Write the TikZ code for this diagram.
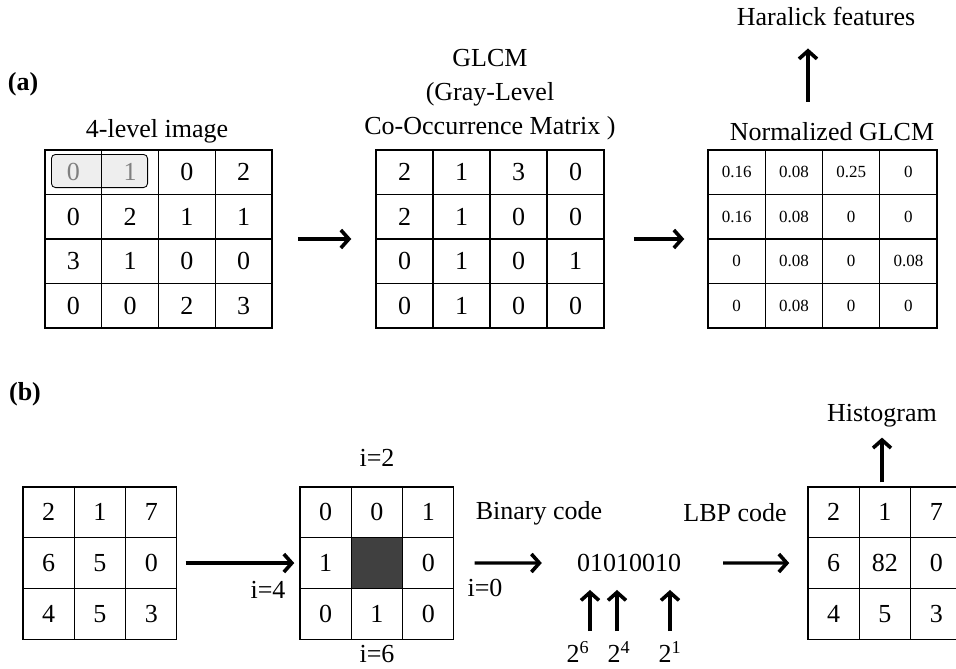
\documentclass[tikz,border=0pt]{standalone}
\usepackage{fontspec}
\setmainfont{Liberation Serif}
\usetikzlibrary{arrows.meta,positioning,fit,backgrounds}
\definecolor{core}{RGB}{64,64,64}
\definecolor{pairfill}{RGB}{238,238,238}
\definecolor{pairtext}{RGB}{128,128,128}
\tikzset{
  flow/.style={-{Straight Barb[length=8pt,width=18pt,line width=3.6pt]},line width=3.3pt},
  cell/.style={draw,line width=1.1pt,minimum width=#1,minimum height=44.5pt,
    inner sep=0pt,font=\fontsize{26}{31}\selectfont},
  cell/.default=57pt,
  pix/.style={draw,line width=1.1pt,minimum width=51.3pt,minimum height=50.7pt,
    inner sep=0pt,font=\fontsize{26}{31}\selectfont},
  tag/.style={font=\fontsize{26}{34}\selectfont,align=center,inner sep=0pt},
  part/.style={font=\fontsize{26}{31}\selectfont\bfseries,inner sep=0pt},
  frame/.style={inner sep=0pt},
}

\begin{document}
\begin{tikzpicture}[x=1pt,y=-1pt]
  \useasboundingbox (0,0) rectangle (956,669);

  % (a) GLCM
  \node[part] (pa) at (23,84) {(a)};
  \foreach \i/\row in {1/{{\color{pairtext}0},{\color{pairtext}1},0,2},2/{0,2,1,1},3/{3,1,0,0},4/{0,0,2,3}}
    \foreach \v [count=\j] in \row
      \node[cell=56.75pt] (img-\i-\j) at (45+56.75*\j-28.375,150+44.5*\i-22.25) {\v};
  \foreach \i/\row in {1/{2,1,3,0},2/{2,1,0,0},3/{0,1,0,1},4/{0,1,0,0}}
    \foreach \v [count=\j] in \row
      \node[cell] (glcm-\i-\j) at (376+57*\j-28.5,150+44.5*\i-22.25) {\v};
  \foreach \i/\row in {1/{0.16,0.08,0.25,0},2/{0.16,0.08,0,0},3/{0,0.08,0,0.08},4/{0,0.08,0,0}}
    \foreach \v [count=\j] in \row
      \node[cell=57.25pt,font=\fontsize{17}{20}\selectfont] (norm-\i-\j) at (708+57.25*\j-28.625,150+44.5*\i-22.25) {\v};
  \node[frame,fit=(img-1-1)(img-4-4)] (img) {};
  \node[frame,fit=(glcm-1-1)(glcm-4-4)] (glcm) {};
  \node[frame,fit=(norm-1-1)(norm-4-4)] (norm) {};

  \begin{scope}[on background layer]
    \draw[fill=pairfill,line width=0.9pt,rounded corners=4pt]
      ([xshift=7pt,yshift=-5pt]img-1-1.north west) rectangle ([xshift=-11.5pt,yshift=7.5pt]img-1-2.south east);
  \end{scope}

  \node[tag] (imgtxt) at (157,131) {4-level image};
  \node[tag] (glcmtxt) at (490,95) {GLCM\\(Gray-Level\\Co-Occurrence Matrix )};
  \node[tag] (normtxt) at (832,132) {Normalized GLCM};
  \node[tag] (haral) at (826,16) {Haralick features};

  \draw[flow] ([xshift=25pt]img.east) -- ([xshift=-24pt]glcm.west);
  \draw[flow] ([xshift=29pt]glcm.east) -- ([xshift=-23pt]norm.west);
  \draw[flow] ([xshift=-24pt,yshift=21pt]normtxt.north) -- ([xshift=-18pt,yshift=-23pt]haral.south);

  % (b) LBP
  \node[part] (pb) at (25,394) {(b)};
  \foreach \i/\row in {1/{2,1,7},2/{6,5,0},3/{4,5,3}}
    \foreach \v [count=\j] in \row
      \node[pix] (gray-\i-\j) at (23+51.3*\j-25.65,487+50.7*\i-25.35) {\v};
  \foreach \i/\row in {1/{0,0,1},2/{1,{},0},3/{0,1,0}}
    \foreach \v [count=\j] in \row
      \node[pix] (bits-\i-\j) at (300+51.3*\j-25.65,487+50.7*\i-25.35) {\v};
  \foreach \i/\row in {1/{2,1,7},2/{6,82,0},3/{4,5,3}}
    \foreach \v [count=\j] in \row
      \node[pix] (code-\i-\j) at (808+51.3*\j-25.65,487+50.7*\i-25.35) {\v};
  \node[frame,fit=(gray-1-1)(gray-3-3)] (gray) {};
  \node[frame,fit=(bits-1-1)(bits-3-3)] (bits) {};
  \node[frame,fit=(code-1-1)(code-3-3)] (code) {};

  \begin{scope}[on background layer]
    \fill[core] (bits-2-2.north west) rectangle (bits-2-2.south east);
  \end{scope}

  \node[tag] (i2) at (377,458) {i=2};
  \node[tag] (i6) at (377,654) {i=6};
  \node[tag] (i4) at (268,590) {i=4};
  \node[tag] (i0) at (485,588) {i=0};
  \node[tag] (bintxt) at (539,513) {Binary code};
  \node[tag] (bin) at (629,563) {01010010};
  \node[tag] (lbptxt) at (735,513) {LBP code};
  \node[tag] (hist) at (882,416) {Histogram};
  \node[tag] (p6) at (578,652) {2\textsuperscript{6}};
  \node[tag] (p4) at (619,652) {2\textsuperscript{4}};
  \node[tag] (p1) at (670,652) {2\textsuperscript{1}};

  \draw[flow] ([xshift=8pt]gray.east) -- ([xshift=-5pt]bits.west);
  \draw[flow] ([xshift=20pt]bits.east) -- ([xshift=-35pt]bin.west);
  \draw[flow] ([xshift=42pt]bin.east) -- ([xshift=-18pt]code.west);
  \draw[flow] ([yshift=4pt]code-1-2.north -| hist.south) -- ([yshift=-10pt]hist.south);

  \coordinate (u6) at (590,631);
  \coordinate (u4) at (617,631);
  \coordinate (u1) at (670,631);
  \foreach \u in {u6,u4,u1}
    \draw[flow,shorten >=18pt] (\u) -- (\u |- bin.south);
\end{tikzpicture}
\end{document}
